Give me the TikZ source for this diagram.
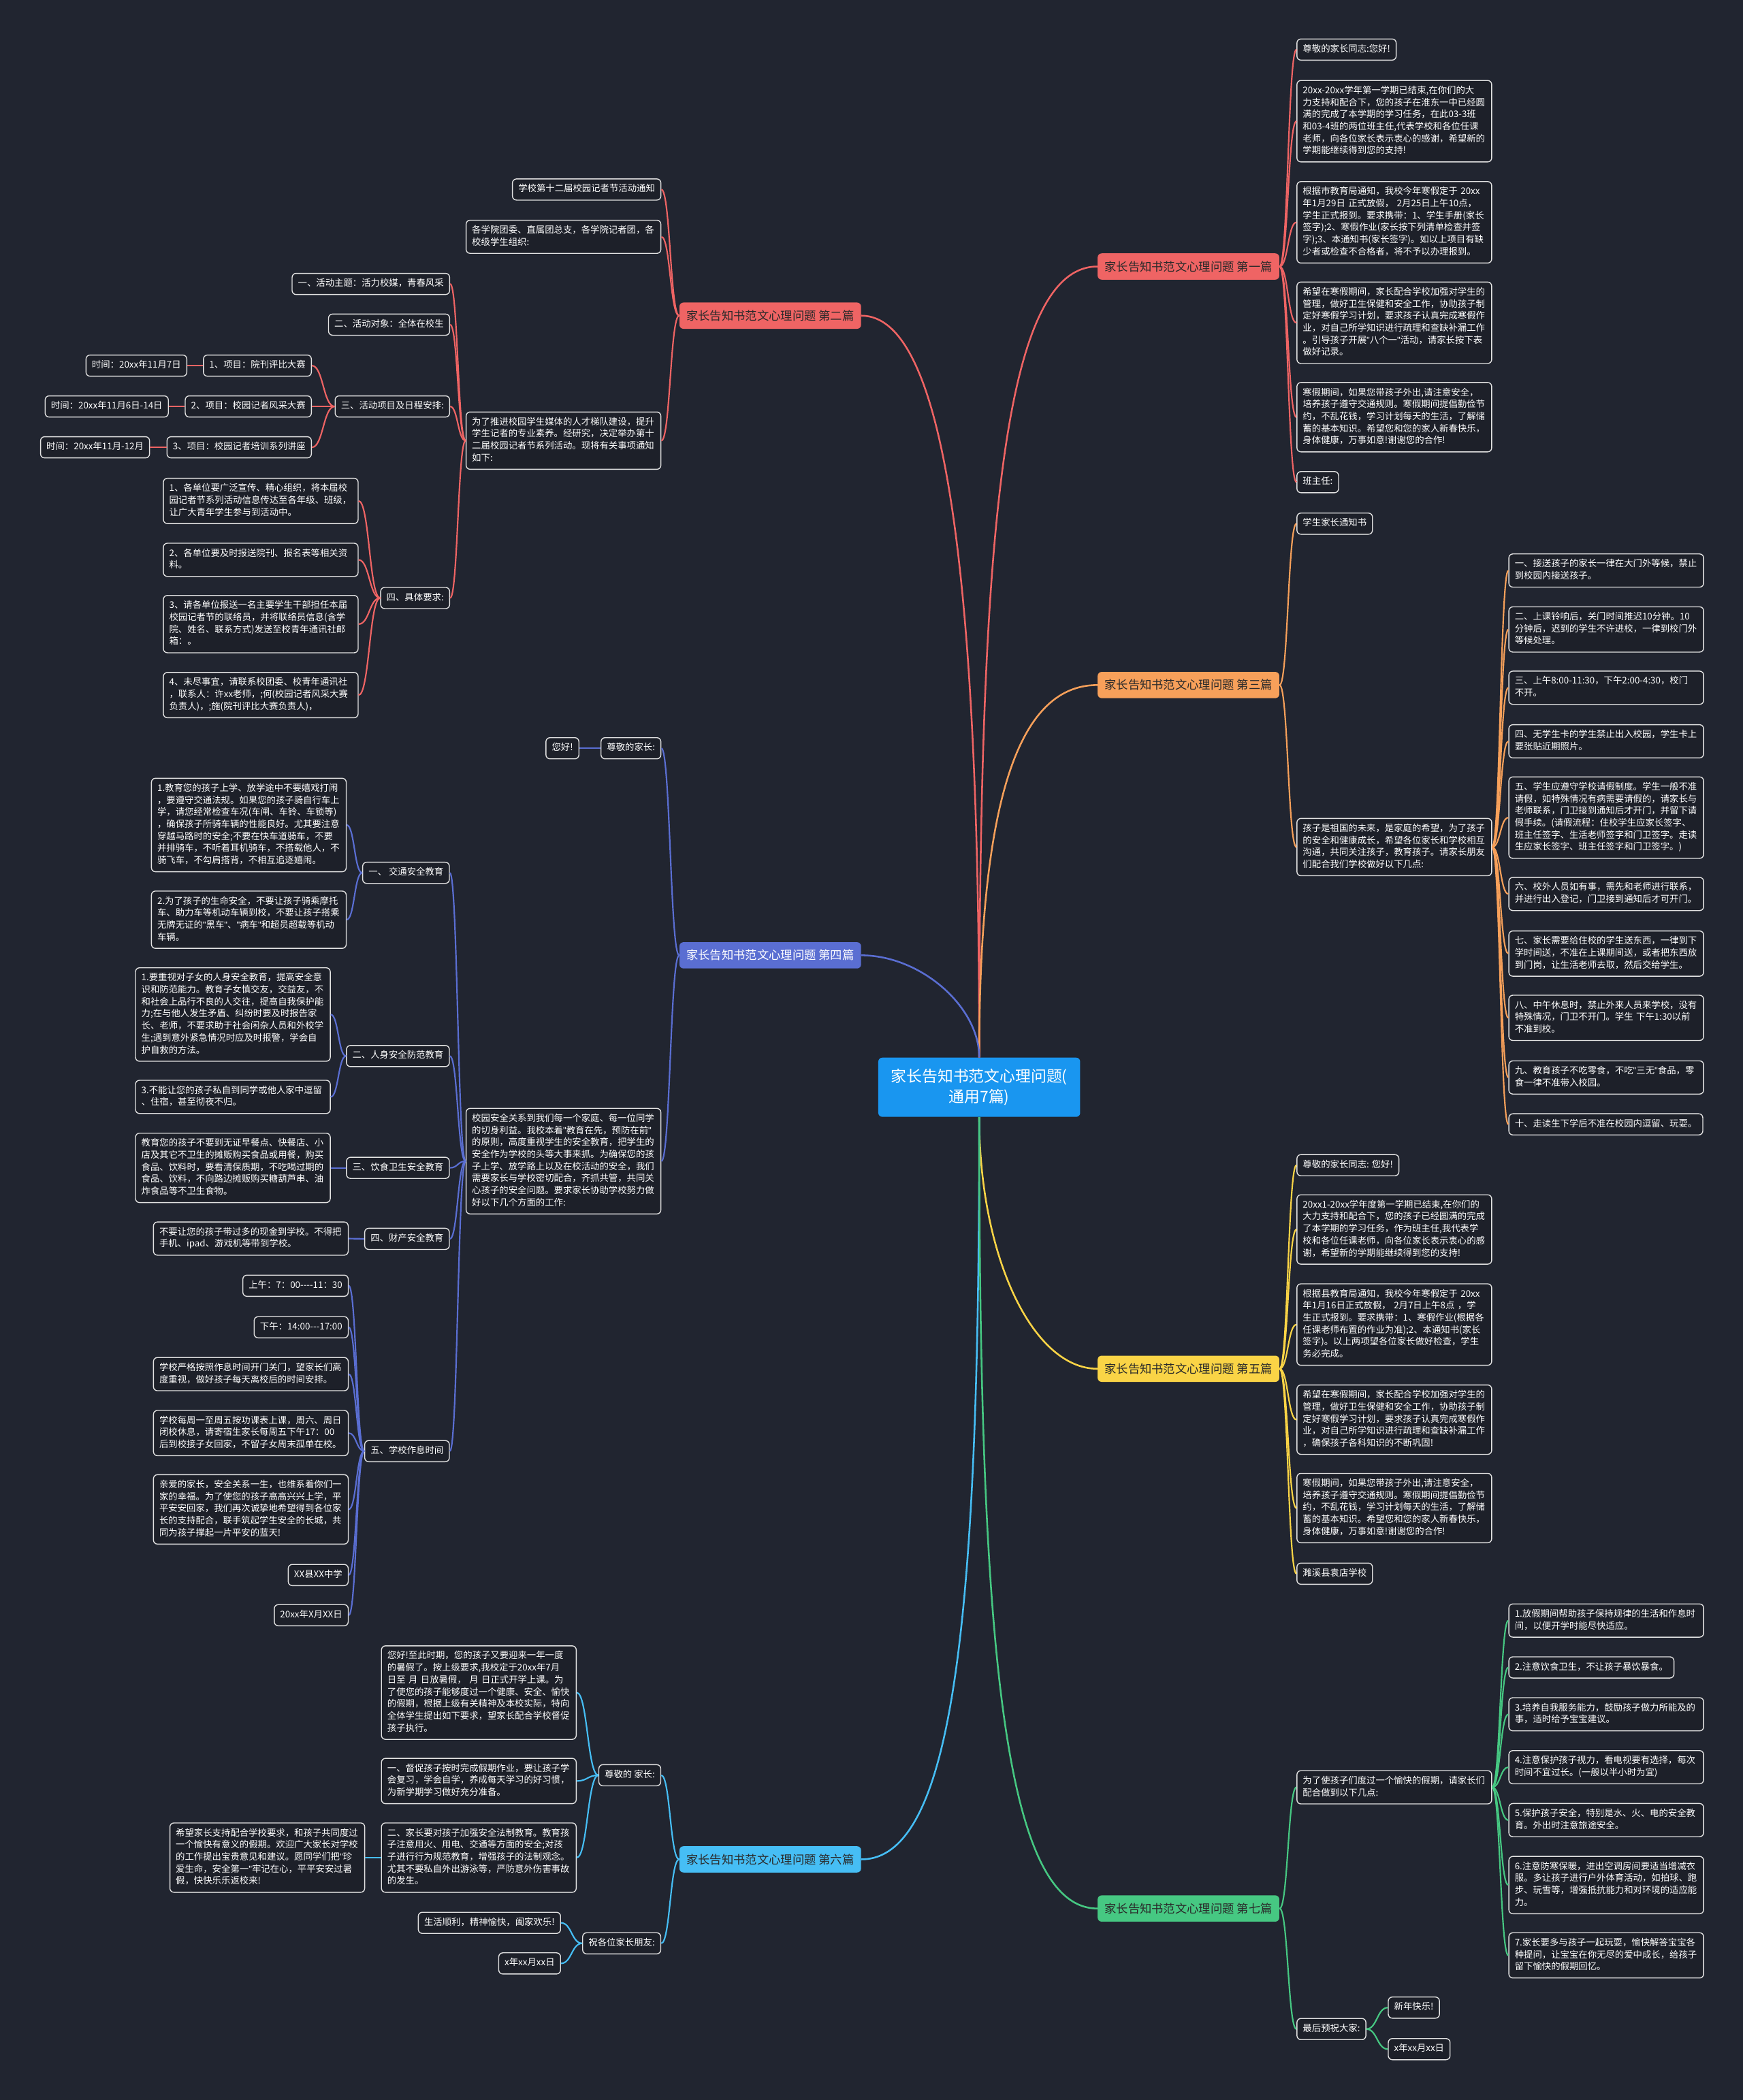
\documentclass[tikz,border=0pt]{standalone}
\usepackage{fontspec}
\setmainfont{Noto Sans CJK SC}[Ligatures=TeXOff]
\newfontfamily\qfont{Liberation Sans}
\newcommand\q{{\qfont"}}
\usetikzlibrary{calc}
\definecolor{bgc}{HTML}{212530}
\definecolor{boxc}{HTML}{1D2029}
\definecolor{boxline}{HTML}{E2E2E2}
\definecolor{cred}{HTML}{EF6464}
\definecolor{corange}{HTML}{F7A05A}
\definecolor{cpurple}{HTML}{5A6ED2}
\definecolor{cyellow}{HTML}{FAD446}
\definecolor{cblue}{HTML}{46BEF5}
\definecolor{cgreen}{HTML}{46C882}
\definecolor{ccenter}{HTML}{1996F0}
\definecolor{darktext}{HTML}{2A2A2A}
\newcommand\lk[3]{\draw[#3] let \p1=(#1), \p2=(#2) in (\p1) .. controls ({0.5*\x1+0.5*\x2},\y1) and ({0.5*\x1+0.5*\x2},\y2) .. (\p2);}
\newcommand\mainlk[5]{\draw[#3,line width=1.3pt] let \p1=(#1), \p2=(#2) in (\p1) .. controls (\x1,{\y1+#4*(\y2-\y1)}) and ({\x2-#5*(\x2-\x1)},\y2) .. (\p2);}
\tikzset{
 leaf/.style={draw=boxline, fill=boxc, rounded corners=3pt, line width=0.7pt, text=white,
   font=\fontsize{6.8}{9}\selectfont, inner xsep=4.4pt, inner ysep=3.4pt,
   execute at begin node=\strut, execute at end node=\strut},
 wide/.style={leaf, text width=136.6pt, align=left},
 branch/.style={rounded corners=3pt, minimum width=135.6pt, minimum height=19.6pt, inner xsep=4pt,
   inner ysep=2pt, font=\fontsize{8.8}{10}\selectfont, text=darktext},
 root/.style={fill=ccenter, rounded corners=3pt, minimum width=150.7pt, minimum height=44.2pt,
   text width=142pt, align=center, text=white, font=\fontsize{11.6}{15}\selectfont},
 lr/.style={draw=cred, line width=1.1pt},
 lo/.style={draw=corange, line width=1.1pt},
 lp/.style={draw=cpurple, line width=1.1pt},
 ly/.style={draw=cyellow, line width=1.1pt},
 lb/.style={draw=cblue, line width=1.1pt},
 lg/.style={draw=cgreen, line width=1.1pt},
 R/.style={anchor=west},
 L/.style={anchor=east}
}
\begin{document}
\begin{tikzpicture}[x=1pt,y=-1pt]
\fill[bgc] (0,0) rectangle (1301,1568);
\useasboundingbox (0,0) rectangle (1301,1568);

% root and branches
\node[root] (root) at (731,811.8) {家长告知书范文心理问题(\\通用7篇)};
\node[branch, fill=cred, R] (b1) at (819.2,199) {家长告知书范文心理问题 第一篇};
\node[branch, fill=corange, R] (b3) at (819.2,511.5) {家长告知书范文心理问题 第三篇};
\node[branch, fill=cyellow, R] (b5) at (819.2,1022) {家长告知书范文心理问题 第五篇};
\node[branch, fill=cgreen, R] (b7) at (819.2,1425) {家长告知书范文心理问题 第七篇};
\node[branch, fill=cred, L] (b2) at (643,235.7) {家长告知书范文心理问题 第二篇};
\node[branch, fill=cpurple, text=white, L] (b4) at (643,713.3) {家长告知书范文心理问题 第四篇};
\node[branch, fill=cblue, L] (b6) at (643,1388.3) {家长告知书范文心理问题 第六篇};

% ---------- branch 1 ----------
\node[leaf, R] (r1a) at (967.8,37) {尊敬的家长同志:您好!};
\node[wide, R] (r1b) at (967.8,90.5) {20xx-20xx学年第一学期已结束,在你们的大\\力支持和配合下，您的孩子在淮东一中已经圆\\满的完成了本学期的学习任务，在此03-3班\\和03-4班的两位班主任,代表学校和各位任课\\老师，向各位家长表示衷心的感谢，希望新的\\学期能继续得到您的支持!};
\node[wide, R] (r1c) at (967.8,166) {根据市教育局通知，我校今年寒假定于 20xx\\年1月29日 正式放假， 2月25日上午10点，\\学生正式报到。要求携带：1、学生手册(家长\\签字);2、寒假作业(家长按下列清单检查并签\\字);3、本通知书(家长签字)。如以上项目有缺\\少者或检查不合格者，将不予以办理报到。};
\node[wide, R] (r1d) at (967.8,241) {希望在寒假期间，家长配合学校加强对学生的\\管理，做好卫生保健和安全工作，协助孩子制\\定好寒假学习计划，要求孩子认真完成寒假作\\业，对自己所学知识进行疏理和查缺补漏工作\\。引导孩子开展\q{}八个一\q{}活动，请家长按下表\\做好记录。};
\node[wide, R] (r1e) at (967.8,311.5) {寒假期间，如果您带孩子外出,请注意安全，\\培养孩子遵守交通规则。寒假期间提倡勤俭节\\约，不乱花钱，学习计划每天的生活，了解储\\蓄的基本知识。希望您和您的家人新春快乐，\\身体健康，万事如意!谢谢您的合作!};
\node[leaf, R] (r1f) at (967.8,360) {班主任:};

% ---------- branch 3 ----------
\node[leaf, R] (r3a) at (967.8,391) {学生家长通知书};
\node[wide, R] (r3b) at (967.8,632.5) {孩子是祖国的未来，是家庭的希望，为了孩子\\的安全和健康成长，希望各位家长和学校相互\\沟通，共同关注孩子，教育孩子。请家长朋友\\们配合我们学校做好以下几点:};
\node[wide, R] (r3c1) at (1126,426) {一、接送孩子的家长一律在大门外等候，禁止\\到校园内接送孩子。};
\node[wide, R] (r3c2) at (1126,470) {二、上课铃响后，关门时间推迟10分钟。10\\分钟后，迟到的学生不许进校，一律到校门外\\等候处理。};
\node[wide, R] (r3c3) at (1126,513.5) {三、上午8:00-11:30，下午2:00-4:30，校门\\不开。};
\node[wide, R] (r3c4) at (1126,553.5) {四、无学生卡的学生禁止出入校园，学生卡上\\要张贴近期照片。};
\node[wide, R] (r3c5) at (1126,610.5) {五、学生应遵守学校请假制度。学生一般不准\\请假，如特殊情况有病需要请假的，请家长与\\老师联系，门卫接到通知后才开门，并留下请\\假手续。(请假流程：住校学生应家长签字、\\班主任签字、生活老师签字和门卫签字。走读\\生应家长签字、班主任签字和门卫签字。)};
\node[wide, R] (r3c6) at (1126,667.5) {六、校外人员如有事，需先和老师进行联系，\\并进行出入登记，门卫接到通知后才可开门。};
\node[wide, R] (r3c7) at (1126,712) {七、家长需要给住校的学生送东西，一律到下\\学时间送，不准在上课期间送，或者把东西放\\到门岗，让生活老师去取，然后交给学生。};
\node[wide, R] (r3c8) at (1126,760) {八、中午休息时，禁止外来人员来学校，没有\\特殊情况，门卫不开门。学生 下午1:30以前\\不准到校。};
\node[wide, R] (r3c9) at (1126,804.5) {九、教育孩子不吃零食，不吃\q{}三无\q{}食品，零\\食一律不准带入校园。};
\node[leaf, R] (r3c10) at (1126,839.5) {十、走读生下学后不准在校园内逗留、玩耍。};

% ---------- branch 5 ----------
\node[leaf, R] (r5a) at (967.8,870) {尊敬的家长同志: 您好!};
\node[wide, R] (r5b) at (967.8,918) {20xx1-20xx学年度第一学期已结束,在你们的\\大力支持和配合下，您的孩子已经圆满的完成\\了本学期的学习任务，作为班主任,我代表学\\校和各位任课老师，向各位家长表示衷心的感\\谢，希望新的学期能继续得到您的支持!};
\node[wide, R] (r5c) at (967.8,989) {根据县教育局通知，我校今年寒假定于 20xx\\年1月16日正式放假， 2月7日上午8点 ，学\\生正式报到。要求携带：1、寒假作业(根据各\\任课老师布置的作业为准);2、本通知书(家长\\签字)。以上两项望各位家长做好检查，学生\\务必完成。};
\node[wide, R] (r5d) at (967.8,1060) {希望在寒假期间，家长配合学校加强对学生的\\管理，做好卫生保健和安全工作，协助孩子制\\定好寒假学习计划，要求孩子认真完成寒假作\\业，对自己所学知识进行疏理和查缺补漏工作\\，确保孩子各科知识的不断巩固!};
\node[wide, R] (r5e) at (967.8,1126) {寒假期间，如果您带孩子外出,请注意安全，\\培养孩子遵守交通规则。寒假期间提倡勤俭节\\约，不乱花钱，学习计划每天的生活，了解储\\蓄的基本知识。希望您和您的家人新春快乐，\\身体健康，万事如意!谢谢您的合作!};
\node[leaf, R] (r5f) at (967.8,1175) {濉溪县袁店学校};

% ---------- branch 7 ----------
\node[wide, R] (r7a) at (967.8,1334.5) {为了使孩子们度过一个愉快的假期，请家长们\\配合做到以下几点:};
\node[wide, R] (r7c1) at (1126,1210) {1.放假期间帮助孩子保持规律的生活和作息时\\间，以便开学时能尽快适应。};
\node[leaf, R] (r7c2) at (1126,1245) {2.注意饮食卫生，不让孩子暴饮暴食。};
\node[wide, R] (r7c3) at (1126,1280) {3.培养自我服务能力，鼓励孩子做力所能及的\\事，适时给予宝宝建议。};
\node[wide, R] (r7c4) at (1126,1319.5) {4.注意保护孩子视力，看电视要有选择，每次\\时间不宜过长。(一般以半小时为宜)};
\node[wide, R] (r7c5) at (1126,1359) {5.保护孩子安全，特别是水、火、电的安全教\\育。外出时注意旅途安全。};
\node[wide, R] (r7c6) at (1126,1407.5) {6.注意防寒保暖，进出空调房间要适当增减衣\\服。多让孩子进行户外体育活动，如拍球、跑\\步、玩雪等，增强抵抗能力和对环境的适应能\\力。};
\node[wide, R] (r7c7) at (1126,1460) {7.家长要多与孩子一起玩耍，愉快解答宝宝各\\种提问，让宝宝在你无尽的爱中成长，给孩子\\留下愉快的假期回忆。};
\node[leaf, R] (r7b) at (967.8,1515) {最后预祝大家:};
\node[leaf, R] (r7d1) at (1036,1499) {新年快乐!};
\node[leaf, R] (r7d2) at (1036,1530) {x年xx月xx日};

% ---------- branch 2 ----------
\node[leaf, L] (l2a) at (493.7,141.5) {学校第十二届校园记者节活动通知};
\node[wide, L] (l2b) at (493.7,176.8) {各学院团委、直属团总支，各学院记者团，各\\校级学生组织:};
\node[wide, L] (l2c) at (493.7,329) {为了推进校园学生媒体的人才梯队建设，提升\\学生记者的专业素养。经研究，决定举办第十\\二届校园记者节系列活动。现将有关事项通知\\如下:};
\node[leaf, L] (l2d) at (336,212) {一、活动主题：活力校媒，青春风采};
\node[leaf, L] (l2e) at (336,242.4) {二、活动对象：全体在校生};
\node[leaf, L] (l2f) at (336,303.5) {三、活动项目及日程安排:};
\node[leaf, L] (l2f1) at (232.8,273) {1、项目：院刊评比大赛};
\node[leaf, L] (l2f2) at (232.8,303.5) {2、项目：校园记者风采大赛};
\node[leaf, L] (l2f3) at (232.8,334) {3、项目：校园记者培训系列讲座};
\node[leaf, L] (t1) at (139.8,273) {时间：20xx年11月7日};
\node[leaf, L] (t2) at (126,303.5) {时间：20xx年11月6日-14日};
\node[leaf, L] (t3) at (112,334) {时间：20xx年11月-12月};
\node[leaf, L] (l2g) at (336,446.5) {四、具体要求:};
\node[wide, L] (l2g1) at (267.7,374) {1、各单位要广泛宣传、精心组织，将本届校\\园记者节系列活动信息传达至各年级、班级，\\让广大青年学生参与到活动中。};
\node[wide, L] (l2g2) at (267.7,418) {2、各单位要及时报送院刊、报名表等相关资\\料。};
\node[wide, L] (l2g3) at (267.7,466) {3、请各单位报送一名主要学生干部担任本届\\校园记者节的联络员，并将联络员信息(含学\\院、姓名、联系方式)发送至校青年通讯社邮\\箱：。};
\node[wide, L] (l2g4) at (267.7,519) {4、未尽事宜，请联系校团委、校青年通讯社\\，联系人：许xx老师，;何(校园记者风采大赛\\负责人)，;施(院刊评比大赛负责人)，};

% ---------- branch 4 ----------
\node[leaf, L] (l4a) at (493.7,558.7) {尊敬的家长:};
\node[leaf, L] (l4a1) at (432.5,558.7) {您好!};
\node[wide, L] (l4b) at (493.7,867) {校园安全关系到我们每一个家庭、每一位同学\\的切身利益。我校本着\q{}教育在先，预防在前\q{}\\的原则，高度重视学生的安全教育，把学生的\\安全作为学校的头等大事来抓。为确保您的孩\\子上学、放学路上以及在校活动的安全，我们\\需要家长与学校密切配合，齐抓共管，共同关\\心孩子的安全问题。要求家长协助学校努力做\\好以下几个方面的工作:};
\node[leaf, L] (l4c1) at (335.8,651.7) {一、 交通安全教育};
\node[leaf, L] (l4c2) at (335.8,788.5) {二、人身安全防范教育};
\node[leaf, L] (l4c3) at (335.8,872) {三、饮食卫生安全教育};
\node[leaf, L] (l4c4) at (335.8,925) {四、财产安全教育};
\node[leaf, L] (l4c5) at (335.8,1083.5) {五、学校作息时间};
\node[wide, L] (l4d1) at (258.8,616) {1.教育您的孩子上学、放学途中不要嬉戏打闹\\，要遵守交通法规。如果您的孩子骑自行车上\\学，请您经常检查车况(车闸、车铃、车锁等)\\，确保孩子所骑车辆的性能良好。尤其要注意\\穿越马路时的安全;不要在快车道骑车，不要\\并排骑车，不听着耳机骑车，不搭载他人，不\\骑飞车，不勾肩搭背，不相互追逐嬉闹。};
\node[wide, L] (l4d2) at (258.8,686.7) {2.为了孩子的生命安全，不要让孩子骑乘摩托\\车、助力车等机动车辆到校，不要让孩子搭乘\\无牌无证的\q{}黑车\q{}、\q{}病车\q{}和超员超载等机动\\车辆。};
\node[wide, L] (l4e1) at (246.9,757.5) {1.要重视对子女的人身安全教育，提高安全意\\识和防范能力。教育子女慎交友，交益友，不\\和社会上品行不良的人交往，提高自我保护能\\力;在与他人发生矛盾、纠纷时要及时报告家\\长、老师，不要求助于社会闲杂人员和外校学\\生;遇到意外紧急情况时应及时报警，学会自\\护自救的方法。};
\node[wide, L] (l4e2) at (246.9,819) {3.不能让您的孩子私自到同学或他人家中逗留\\、住宿，甚至彻夜不归。};
\node[wide, L] (l4f1) at (246.9,872) {教育您的孩子不要到无证早餐点、快餐店、小\\店及其它不卫生的摊贩购买食品或用餐，购买\\食品、饮料时，要看清保质期，不吃喝过期的\\食品、饮料，不向路边摊贩购买糖葫芦串、油\\炸食品等不卫生食物。};
\node[wide, L] (l4g1) at (260.3,924.8) {不要让您的孩子带过多的现金到学校。不得把\\手机、ipad、游戏机等带到学校。};
\node[leaf, L] (l4h1) at (260.3,960) {上午：7：00----11：30};
\node[leaf, L] (l4h2) at (260.3,991) {下午：14:00---17:00};
\node[wide, L] (l4h3) at (260.3,1026) {学校严格按照作息时间开门关门，望家长们高\\度重视，做好孩子每天离校后的时间安排。};
\node[wide, L] (l4h4) at (260.3,1070) {学校每周一至周五按功课表上课，周六、周日\\闭校休息，请寄宿生家长每周五下午17：00\\后到校接子女回家，不留子女周末孤单在校。};
\node[wide, L] (l4h5) at (260.3,1127) {亲爱的家长，安全关系一生，也维系着你们一\\家的幸福。为了使您的孩子高高兴兴上学，平\\平安安回家，我们再次诚挚地希望得到各位家\\长的支持配合，联手筑起学生安全的长城，共\\同为孩子撑起一片平安的蓝天!};
\node[leaf, L] (l4h6) at (260.3,1176) {XX县XX中学};
\node[leaf, L] (l4h7) at (260.3,1206) {20xx年X月XX日};

% ---------- branch 6 ----------
\node[leaf, L] (l6a) at (493.6,1325.5) {尊敬的 家长:};
\node[wide, L] (l6a1) at (430.5,1263.8) {您好!至此时期，您的孩子又要迎来一年一度\\的暑假了。按上级要求,我校定于20xx年7月\\日至 月 日放暑假， 月 日正式开学上课。为\\了使您的孩子能够度过一个健康、安全、愉快\\的假期，根据上级有关精神及本校实际，特向\\全体学生提出如下要求，望家长配合学校督促\\孩子执行。};
\node[wide, L] (l6a2) at (430.5,1329.8) {一、督促孩子按时完成假期作业，要让孩子学\\会复习，学会自学，养成每天学习的好习惯，\\为新学期学习做好充分准备。};
\node[wide, L] (l6a3) at (430.5,1387) {二、家长要对孩子加强安全法制教育。教育孩\\子注意用火、用电、交通等方面的安全;对孩\\子进行行为规范教育，增强孩子的法制观念。\\尤其不要私自外出游泳等，严防意外伤害事故\\的发生。};
\node[wide, L] (l6a3a) at (272.6,1387) {希望家长支持配合学校要求，和孩子共同度过\\一个愉快有意义的假期。欢迎广大家长对学校\\的工作提出宝贵意见和建议。愿同学们把\q{}珍\\爱生命，安全第一\q{}牢记在心，平平安安过暑\\假，快快乐乐返校来!};
\node[leaf, L] (l6b) at (493.6,1451) {祝各位家长朋友:};
\node[leaf, L] (l6b1) at (418.8,1435.7) {生活顺利，精神愉快，阖家欢乐!};
\node[leaf, L] (l6b2) at (418.8,1466) {x年xx月xx日};

% ---------- main links ----------
\mainlk{root.north}{b1.west}{lr}{0.66}{0.8}
\mainlk{root.north}{b2.east}{lr}{0.66}{0.7}
\mainlk{root.north}{b3.west}{lo}{0.66}{0.7}
\mainlk{root.north}{b4.east}{lp}{0.5}{0.5}
\mainlk{root.south}{b5.west}{ly}{0.55}{0.55}
\mainlk{root.south}{b6.east}{lb}{0.66}{0.8}
\mainlk{root.south}{b7.west}{lg}{0.66}{0.8}

% ---------- child links ----------
\foreach \c in {r1a,r1b,r1c,r1d,r1e,r1f} {\lk{b1.east}{\c.west}{lr}}
\foreach \c in {r3a,r3b} {\lk{b3.east}{\c.west}{lo}}
\foreach \c in {r3c1,r3c2,r3c3,r3c4,r3c5,r3c6,r3c7,r3c8,r3c9,r3c10} {\lk{r3b.east}{\c.west}{lo}}
\foreach \c in {r5a,r5b,r5c,r5d,r5e,r5f} {\lk{b5.east}{\c.west}{ly}}
\foreach \c in {r7a,r7b} {\lk{b7.east}{\c.west}{lg}}
\foreach \c in {r7c1,r7c2,r7c3,r7c4,r7c5,r7c6,r7c7} {\lk{r7a.east}{\c.west}{lg}}
\foreach \c in {r7d1,r7d2} {\lk{r7b.east}{\c.west}{lg}}

\foreach \c in {l2a,l2b,l2c} {\lk{b2.west}{\c.east}{lr}}
\foreach \c in {l2d,l2e,l2f,l2g} {\lk{l2c.west}{\c.east}{lr}}
\foreach \c in {l2f1,l2f2,l2f3} {\lk{l2f.west}{\c.east}{lr}}
\lk{l2f1.west}{t1.east}{lr}
\lk{l2f2.west}{t2.east}{lr}
\lk{l2f3.west}{t3.east}{lr}
\foreach \c in {l2g1,l2g2,l2g3,l2g4} {\lk{l2g.west}{\c.east}{lr}}

\foreach \c in {l4a,l4b} {\lk{b4.west}{\c.east}{lp}}
\lk{l4a.west}{l4a1.east}{lp}
\foreach \c in {l4c1,l4c2,l4c3,l4c4,l4c5} {\lk{l4b.west}{\c.east}{lp}}
\foreach \c in {l4d1,l4d2} {\lk{l4c1.west}{\c.east}{lp}}
\foreach \c in {l4e1,l4e2} {\lk{l4c2.west}{\c.east}{lp}}
\lk{l4c3.west}{l4f1.east}{lp}
\lk{l4c4.west}{l4g1.east}{lp}
\foreach \c in {l4h1,l4h2,l4h3,l4h4,l4h5,l4h6,l4h7} {\lk{l4c5.west}{\c.east}{lp}}

\foreach \c in {l6a,l6b} {\lk{b6.west}{\c.east}{lb}}
\foreach \c in {l6a1,l6a2,l6a3} {\lk{l6a.west}{\c.east}{lb}}
\lk{l6a3.west}{l6a3a.east}{lb}
\foreach \c in {l6b1,l6b2} {\lk{l6b.west}{\c.east}{lb}}
\end{tikzpicture}
\end{document}
